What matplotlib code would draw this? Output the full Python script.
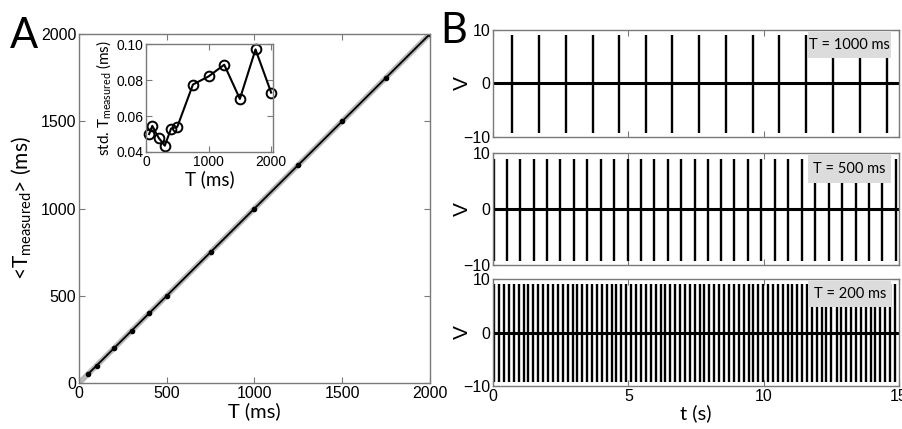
import matplotlib
matplotlib.use('Agg')
from matplotlib import pyplot as plt
from matplotlib.patches import Rectangle

plt.rcParams['font.family'] = ['Liberation Sans', 'DejaVu Sans']
plt.rcParams['mathtext.default'] = 'regular'
LABEL_FONT = ['Lato', 'DejaVu Sans']

#' Panel A data
T_set = [50, 100, 200, 300, 400, 500, 750, 1000, 1250, 1500, 1750, 2000]
T_meas = [50, 100, 200, 300, 400, 500, 750, 1000, 1250, 1500, 1750, 2000]
T_std = [0.050, 0.0545, 0.048, 0.0435, 0.053, 0.054, 0.0775, 0.082, 0.0885, 0.0695, 0.097, 0.073]
identity = [0, 2000]

#' Panel B data: spike times (s)
spikes_1000 = [0.70, 1.69, 2.69, 3.68, 4.66, 5.64, 6.63, 7.62, 8.60, 9.59,
               10.57, 11.58, 12.57, 13.56, 14.57]
spikes_500 = [0.03, 0.52, 1.01, 1.50, 2.00, 2.49, 2.98, 3.49, 3.98, 4.47, 4.97,
              5.46, 5.95, 6.46, 6.95, 7.45, 7.94, 8.43, 8.92, 9.42, 9.91,
              10.42, 10.91, 11.41, 11.90, 12.40, 12.89, 13.40, 13.89, 14.38, 14.88]
spikes_200 = [0.05, 0.23, 0.41, 0.59, 0.77, 0.95, 1.13, 1.31, 1.49, 1.67,
              1.86, 2.04, 2.22, 2.40, 2.58, 2.76, 2.94, 3.12, 3.30, 3.48,
              3.66, 3.84, 4.02, 4.20, 4.38, 4.56, 4.74, 4.92, 5.10, 5.28,
              5.47, 5.65, 5.83, 6.01, 6.19, 6.37, 6.55, 6.73, 6.91, 7.09,
              7.27, 7.45, 7.63, 7.81, 7.99, 8.17, 8.35, 8.53, 8.71, 8.89,
              9.08, 9.26, 9.44, 9.62, 9.80, 9.98, 10.16, 10.34, 10.52, 10.70,
              10.88, 11.06, 11.24, 11.42, 11.60, 11.78, 11.96, 12.14, 12.32, 12.50,
              12.69, 12.87, 13.05, 13.23, 13.41, 13.59, 13.77, 13.95, 14.13, 14.31,
              14.49, 14.67, 14.85]
spike_top = 9
spike_bottom = -9.2
panel_labels = ['T = 1000 ms', 'T = 500 ms', 'T = 200 ms']

FRAME = '#7a7a7a'


def style(ax, size=10):
    for s in ax.spines.values():
        s.set_color(FRAME)
        s.set_linewidth(1.0)
    ax.tick_params(direction='in', top=True, right=True, color=FRAME,
                   length=4, labelsize=size, pad=2)


fig = plt.figure(figsize=(9.02, 4.29), dpi=100)

#' Panel A main
ax = fig.add_axes([0.0876, 0.1072, 0.389, 0.8135])
ax.plot(identity, identity, color='#b8b8b8', lw=4, zorder=1)
ax.plot(T_set, T_meas, color='k', lw=1.3, marker='o', ms=3, zorder=2)
ax.set_xlim(0, 2000)
ax.set_ylim(0, 2000)
ax.set_xticks([0, 500, 1000, 1500, 2000])
ax.set_yticks([0, 500, 1000, 1500, 2000])
style(ax, 11.5)
ax.set_xlabel('T (ms)', fontsize=14.5, family=LABEL_FONT, labelpad=1)
ax.set_ylabel(r'<T$_{measured}$> (ms)', fontsize=15, family=LABEL_FONT)
ax.yaxis.set_label_coords(-0.13, 0.5)
fig.text(0.011, 0.888, 'A', fontsize=30, family=LABEL_FONT)

#' Panel A inset
axi = fig.add_axes([0.1619, 0.6457, 0.1408, 0.2517])
axi.plot(T_set, T_std, color='k', lw=1.5, marker='o', ms=7, mfc='none',
         mec='k', mew=1.4, clip_on=False)
axi.set_xlim(0, 2030)
axi.set_ylim(0.04, 0.10)
axi.set_xticks([0, 1000, 2000])
axi.set_yticks([0.04, 0.06, 0.08, 0.10])
axi.set_yticklabels(['0.04', '0.06', '0.08', '0.10'])
style(axi, 10)
axi.set_xlabel('T (ms)', fontsize=13.5, family=LABEL_FONT, labelpad=1)
axi.set_ylabel(r'std. T$_{measured}$ (ms)', fontsize=11, family=LABEL_FONT, labelpad=2)

#' Panel B
rects = [[0.5466, 0.6807, 0.4501, 0.2494],
         [0.5466, 0.3823, 0.4501, 0.2610],
         [0.5466, 0.1002, 0.4501, 0.2494]]
trains = [spikes_1000, spikes_500, spikes_200]
for i, (r, sp, lab) in enumerate(zip(rects, trains, panel_labels)):
    axb = fig.add_axes(r)
    axb.vlines(sp, spike_bottom, spike_top, color='k', lw=1.7, zorder=2)
    axb.axhline(0, color='k', lw=2.2, zorder=2)
    axb.set_xlim(0, 15)
    axb.set_ylim(-10, 10)
    axb.set_xticks([0, 5, 10, 15])
    axb.set_yticks([-10, 0, 10])
    style(axb, 11.5)
    if i < 2:
        axb.set_xticklabels([])
    else:
        axb.set_xlabel('t (s)', fontsize=14.5, family=LABEL_FONT, labelpad=0)
    axb.set_ylabel('V', fontsize=15)
    axb.yaxis.set_label_coords(-0.052, 0.5)
    axb.add_patch(Rectangle((0.776, 0.735), 0.205, 0.25, transform=axb.transAxes,
                            fc='#dcdcdc', ec='none', zorder=3))
    axb.text(0.8785, 0.86, lab, transform=axb.transAxes, ha='center', va='center',
             fontsize=10.5, family=LABEL_FONT, zorder=4)
fig.text(0.488, 0.9, 'B', fontsize=30, family=LABEL_FONT)

fig.savefig('out.png', dpi=100)
